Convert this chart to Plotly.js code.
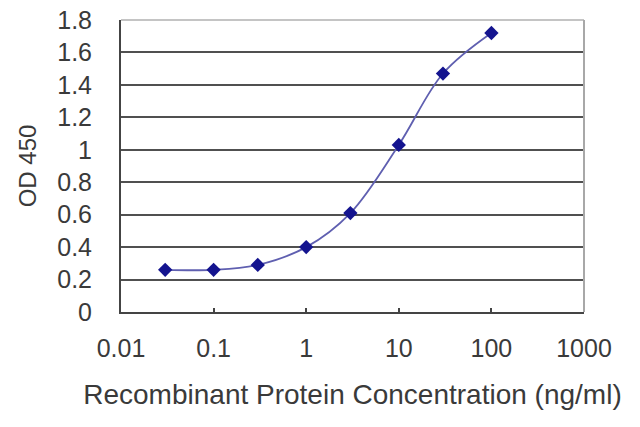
<!DOCTYPE html>
<html>
<head>
<meta charset="utf-8">
<script src="https://cdn.plot.ly/plotly-3.0.1.min.js"></script>
<style>
  html, body { margin: 0; padding: 0; background: #fff; }
  #chart { width: 640px; height: 427px; }
</style>
</head>
<body>
<div id="chart"></div>
<script>
"use strict";

const concentration = [0.03, 0.1, 0.3, 1, 3, 10, 30, 100];
const od450 = [0.26, 0.26, 0.29, 0.40, 0.61, 1.03, 1.47, 1.72];

const xTickVals = [0.01, 0.1, 1, 10, 100, 1000];
const xTickText = ["0.01", "0.1", "1", "10", "100", "1000"];
const yTickVals = [0, 0.2, 0.4, 0.6, 0.8, 1, 1.2, 1.4, 1.6, 1.8];
const yTickText = ["0", "0.2", "0.4", "0.6", "0.8", "1", "1.2", "1.4", "1.6", "1.8"];

const textColor = "#3a3a3a";
const tickFont = { family: "Liberation Sans, Arial, sans-serif", size: 25, color: textColor };
const titleFont = { family: "Liberation Sans, Arial, sans-serif", size: 28, color: textColor };

const data = [
  {
    x: concentration,
    y: od450,
    type: "scatter",
    mode: "lines+markers",
    line: { color: "#5f5fb0", width: 1.8, shape: "spline", smoothing: 1 },
    marker: { symbol: "diamond", size: 11, color: "#14148f" },
    hoverinfo: "x+y",
  },
];

const layout = {
  width: 640,
  height: 427,
  margin: { l: 121, r: 56, t: 20, b: 115 },
  paper_bgcolor: "#ffffff",
  plot_bgcolor: "#ffffff",
  showlegend: false,
  font: tickFont,
  xaxis: {
    type: "log",
    range: [-2, 3],
    tickvals: xTickVals,
    ticktext: xTickText,
    ticks: "inside",
    ticklen: 4,
    tickwidth: 2,
    tickcolor: "#444",
    showgrid: false,
    zeroline: false,
    showline: true,
    linecolor: "#444",
    linewidth: 2,
    ticklabelstandoff: 13,
    tickfont: tickFont,
    title: { text: "Recombinant Protein Concentration (ng/ml)", font: titleFont, standoff: 23 },
  },
  yaxis: {
    range: [0, 1.8],
    tickvals: yTickVals,
    ticktext: yTickText,
    ticks: "",
    showgrid: true,
    gridcolor: "#505050",
    gridwidth: 2,
    zeroline: false,
    showline: true,
    linecolor: "#444",
    linewidth: 2,
    ticklabelstandoff: 22,
    tickfont: tickFont,
    title: { text: "OD 450", font: { ...tickFont, size: 24 }, standoff: 14 },
  },
  shapes: [
    {
      type: "line", xref: "paper", yref: "paper",
      x0: 0, x1: 1, y0: 1, y1: 1,
      line: { color: "#c4c4c4", width: 2 },
    },
    {
      type: "line", xref: "paper", yref: "paper",
      x0: 1, x1: 1, y0: 0, y1: 1,
      line: { color: "#a8a8a8", width: 2 },
    },
  ],
};

Plotly.newPlot("chart", data, layout, { displayModeBar: false, staticPlot: true });
</script>
</body>
</html>
